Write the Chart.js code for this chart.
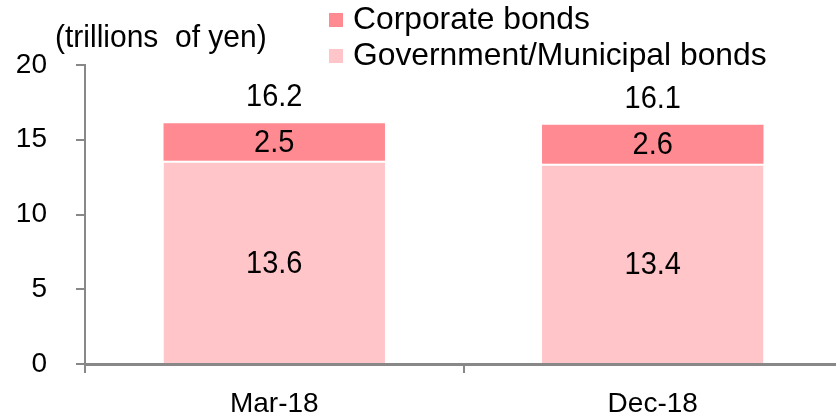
<!DOCTYPE html>
<html><head><meta charset="utf-8">
<script src="https://cdn.jsdelivr.net/npm/chart.js@4/dist/chart.umd.min.js"></script>
<style>html,body{margin:0;padding:0;overflow:hidden;background:#fff;width:836px;height:417px}
#wrap{width:842px;height:417px;position:relative}</style>
</head><body><div id="wrap"><canvas id="c" width="842" height="417"></canvas></div>
<script>
const categories = ["Mar-18", "Dec-18"];
const govBonds = [13.6, 13.4];
const corpBonds = [2.5, 2.6];
const totals = ["16.2", "16.1"];
const seriesNames = ["Corporate bonds", "Government/Municipal bonds"];
const unitLabel = "(trillions  of yen)";
const yTicks = [0, 5, 10, 15, 20];

const FONT = "'Liberation Sans', Arial, sans-serif";
const corpColor = "#FF8A91";
const govColor = "#FFC5C8";

function stretchedText(ctx, t, x, y, vs) {
  ctx.save();
  ctx.translate(x, y);
  ctx.scale(1, vs);
  ctx.fillText(t, 0, 0);
  ctx.restore();
}

const labelsPlugin = {
  id: "labels",
  afterDatasetsDraw(chart) {
    const ctx = chart.ctx;
    ctx.save();
    ctx.fillStyle = "#000";
    ctx.textAlign = "center";
    ctx.textBaseline = "middle";
    ctx.font = "29px " + FONT;
    const m0 = chart.getDatasetMeta(0), m1 = chart.getDatasetMeta(1);
    m0.data.forEach((b, i) => {
      stretchedText(ctx, govBonds[i].toFixed(1), b.x, (b.y + b.base) / 2 + 2, 1.1);
    });
    m1.data.forEach((b, i) => {
      stretchedText(ctx, corpBonds[i].toFixed(1), b.x, (b.y + b.base) / 2 + 1, 1.1);
      stretchedText(ctx, totals[i], b.x, b.y - 26, 1.1);
    });
    // unit label
    ctx.textAlign = "left";
    ctx.font = "30px " + FONT;
    stretchedText(ctx, unitLabel, 55, 38, 1.05);
    // legend
    ctx.font = "31.8px " + FONT;
    const items = [[seriesNames[0], corpColor, 20], [seriesNames[1], govColor, 56]];
    items.forEach(([t, c, y]) => {
      ctx.fillStyle = c;
      ctx.fillRect(329, y - 7, 14, 14);
      ctx.fillStyle = "#000";
      stretchedText(ctx, t, 353, y, 1.0);
    });
    ctx.restore();
  }
};

new Chart(document.getElementById("c"), {
  type: "bar",
  data: {
    labels: categories,
    datasets: [
      { label: seriesNames[1], data: govBonds, backgroundColor: govColor, borderColor: "#fff", borderWidth: {top: 2}, borderSkipped: false, barPercentage: 0.585, categoryPercentage: 1 },
      { label: seriesNames[0], data: corpBonds, backgroundColor: corpColor, borderWidth: 0, barPercentage: 0.585, categoryPercentage: 1 }
    ]
  },
  options: {
    responsive: false,
    animation: false,
    layout: { padding: { top: 65, right: 0, left: 0, bottom: 0 } },
    plugins: { legend: { display: false }, tooltip: { enabled: false } },
    scales: {
      x: {
        stacked: true,
        offset: true,
        grid: { display: true, drawOnChartArea: false, drawTicks: true, tickLength: 9, color: "#888", lineWidth: 2, offset: true },
        border: { display: true, color: "#888", width: 3 },
        ticks: { color: "#000", font: { family: FONT, size: 28 }, padding: 14 },
        afterFit(s) { s.height = 53; }
      },
      y: {
        stacked: true,
        min: 0, max: 20,
        afterBuildTicks(s) { s.ticks = yTicks.map(v => ({ value: v })); },
        grid: { display: true, drawOnChartArea: false, drawTicks: true, tickLength: 9, color: "#888", lineWidth: 2 },
        border: { display: true, color: "#888", width: 2 },
        ticks: { color: "#000", font: { family: FONT, size: 28 }, padding: 29 },
        afterFit(s) { s.width = 85; }
      }
    }
  },
  plugins: [labelsPlugin]
});
</script></body></html>
